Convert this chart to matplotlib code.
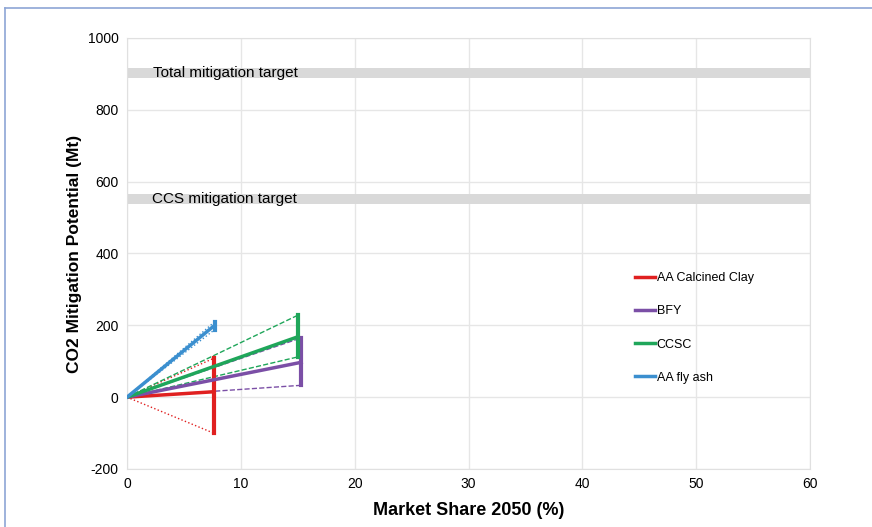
import numpy as np
import matplotlib.pyplot as plt
from matplotlib.lines import Line2D

plt.rcParams['font.family'] = ['Liberation Sans', 'DejaVu Sans']
plt.rcParams['axes.unicode_minus'] = False

# data
names = ['AA Calcined Clay', 'BFY', 'CCSC', 'AA fly ash']
colors = ['#e02020', '#7b4fa6', '#1fa65a', '#3b8fcf']
share = [7.6, 15.3, 15.0, 7.7]
mid = [15, 97, 168, 200]
low = [-100, 33, 112, 188]
high = [108, 165, 228, 210]

total_band = [888, 916]
ccs_band = [538, 567]

fig = plt.figure(figsize=(8.72, 5.27), dpi=100)
ax = fig.add_axes([127/872, 1-469/527, (810-127)/872, (469-38)/527])

ax.axhspan(total_band[0], total_band[1], xmin=0, xmax=1, color='#d9d9d9', lw=0, zorder=1)
ax.axhspan(ccs_band[0], ccs_band[1], xmin=0, xmax=1, color='#d9d9d9', lw=0, zorder=1)
ax.text(2.3, np.mean(total_band), 'Total mitigation target', fontsize=11, va='center', zorder=2)
ax.text(2.2, np.mean(ccs_band), 'CCS mitigation target', fontsize=11, va='center', zorder=2)

for i in range(len(names)):
    x = share[i]
    ls = ':' if i in (0, 3) else '--'
    ax.plot([0, x], [0, low[i]], ls=ls, color=colors[i], lw=1, zorder=3)
    ax.plot([0, x], [0, high[i]], ls=ls, color=colors[i], lw=1, zorder=3)
    ax.plot([x, x], [low[i], high[i]], color=colors[i], lw=3, zorder=4)
    ax.plot([0, x], [0, mid[i]], color=colors[i], lw=2.5, zorder=4, label=names[i])

ax.set_xlim(0, 60)
ax.set_ylim(-200, 1000)
ax.set_xticks(np.arange(0, 61, 10))
ax.set_yticks(np.arange(-200, 1001, 200))
ax.grid(True, color='#e6e6e6', lw=1)
ax.set_axisbelow(True)
for s in ax.spines.values():
    s.set_color('#e0e0e0')
ax.tick_params(length=0, labelsize=10, pad=6)

ax.set_xlabel('Market Share 2050 (%)', fontsize=13, fontweight='bold', labelpad=8)
ax.set_ylabel('CO2 Mitigation Potential (Mt)', fontsize=12.5, fontweight='bold', labelpad=4)

leg = ax.legend(loc='upper left', bbox_to_anchor=(0.728, 0.483), frameon=False,
                fontsize=9, handlelength=1.6, handletextpad=0.1, labelspacing=1.7)

# blue page border
fig.add_artist(Line2D([5/872, 5/872], [0, 1-8/527], color='#8ea6d6', lw=1.2))
fig.add_artist(Line2D([5/872, 1], [1-8/527, 1-8/527], color='#8ea6d6', lw=1.2))

fig.savefig('out.png', dpi=100)
